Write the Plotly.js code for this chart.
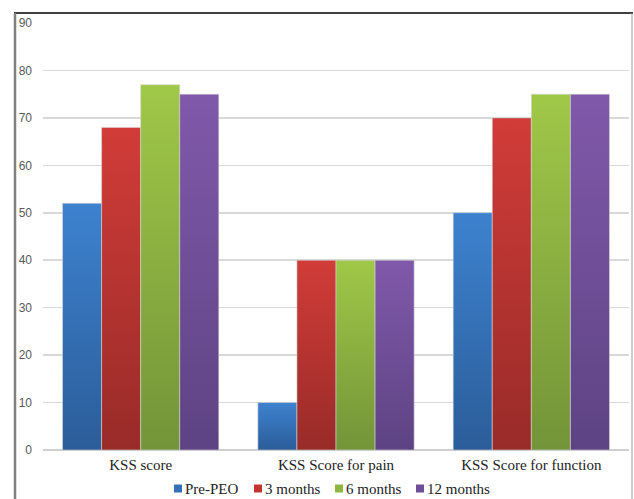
<!DOCTYPE html>
<html>
<head>
<meta charset="utf-8">
<script src="https://cdn.plot.ly/plotly-3.0.1.min.js"></script>
<style>
  html, body { margin: 0; padding: 0; background: #fff; }
  #chart { width: 634px; height: 499px; }
</style>
</head>
<body>
<div id="chart"></div>
<script>
// ---- data ----
const categories = ['KSS score', 'KSS Score for pain', 'KSS Score for function'];
const seriesNames = ['Pre-PEO', '3 months', '6 months', '12 months'];
const prePEO = [52, 10, 50];
const months3 = [68, 40, 70];
const months6 = [77, 40, 75];
const months12 = [75, 40, 75];
const yTickVals = [0, 10, 20, 30, 40, 50, 60, 70, 80, 90];

// ---- styling ----
const seriesValues = [prePEO, months3, months6, months12];
const topColors = ['#3d82cf', '#d13c38', '#a0c848', '#8059aa'];
const bottomColors = ['#2b5d99', '#982b28', '#739438', '#5d4383'];
const midColors = ['#3470b5', '#c23632', '#8fb541', '#6f4f98'];

const traces = seriesNames.map((name, i) => ({
  type: 'bar',
  name: name,
  x: categories,
  y: seriesValues[i],
  marker: { color: midColors[i], line: { width: 0.8, color: 'rgba(215,215,215,0.7)' } },
  hoverinfo: 'skip',
  showlegend: false
}));

const L = 43, R = 629, T = 23, B = 450;
const W = R - L, H = B - T;
const px = v => (v - L) / W;
const py = v => (B - v) / H;

// legend drawn as layout items (bottom, horizontal)
const legendLeft = [174, 254, 335, 416];
const legendCY = 488.5;
const legendFont = { family: '"Liberation Serif", "Times New Roman", serif', size: 15, color: '#222' };
const legendShapes = seriesNames.map((n, i) => ({
  type: 'rect', xref: 'paper', yref: 'paper',
  x0: px(legendLeft[i]), x1: px(legendLeft[i] + 8),
  y0: py(legendCY - 4), y1: py(legendCY + 4),
  fillcolor: midColors[i], line: { width: 0 }
}));
const legendAnnotations = seriesNames.map((n, i) => ({
  xref: 'paper', yref: 'paper',
  x: px(legendLeft[i] + 10), y: py(legendCY),
  xanchor: 'left', yanchor: 'middle',
  text: n, showarrow: false, borderpad: 0,
  font: legendFont
}));

const layout = {
  width: 634, height: 499,
  margin: { l: L, r: 634 - R, t: T, b: 499 - B, pad: 0 },
  paper_bgcolor: '#ffffff',
  plot_bgcolor: '#ffffff',
  barmode: 'group',
  bargap: 0.2,
  bargroupgap: 0,
  showlegend: false,
  xaxis: {
    type: 'category',
    showgrid: false,
    showline: false,
    zeroline: false,
    ticks: '',
    tickfont: { family: '"Liberation Serif", "Times New Roman", serif', size: 15, color: '#222' },
    ticklabelstandoff: 4
  },
  yaxis: {
    range: [0, 90],
    tickvals: yTickVals,
    ticktext: yTickVals.map(String),
    showgrid: true,
    gridcolor: '#d9d9d9',
    gridwidth: 1.5,
    zeroline: true,
    zerolinecolor: '#cfcfcf',
    zerolinewidth: 1.5,
    showline: false,
    ticks: '',
    ticklabelstandoff: 10,
    tickfont: { family: '"Liberation Sans", Arial, sans-serif', size: 12, color: '#595959' }
  },
  annotations: legendAnnotations,
  shapes: [
    { type: 'line', xref: 'paper', yref: 'paper', x0: px(14), x1: px(633), y0: py(13), y1: py(13), line: { color: '#000', width: 1.5 } },
    { type: 'line', xref: 'paper', yref: 'paper', x0: px(15), x1: px(15), y0: py(13), y1: py(510), line: { color: '#808080', width: 2.5 } },
    { type: 'line', xref: 'paper', yref: 'paper', x0: px(632), x1: px(632), y0: py(13), y1: py(510), line: { color: '#9a9a9a', width: 1 } }
  ].concat(legendShapes)
};

Plotly.newPlot('chart', traces, layout, { displayModeBar: false, staticPlot: true }).then(gd => {
  const svg = gd.querySelector('.main-svg');
  const ns = 'http://www.w3.org/2000/svg';
  let defs = svg.querySelector('defs');
  if (!defs) { defs = document.createElementNS(ns, 'defs'); svg.insertBefore(defs, svg.firstChild); }
  seriesNames.forEach((n, i) => {
    const g = document.createElementNS(ns, 'linearGradient');
    g.setAttribute('id', 'barGrad' + i);
    g.setAttribute('x1', '0'); g.setAttribute('y1', '0');
    g.setAttribute('x2', '0'); g.setAttribute('y2', '1');
    const s1 = document.createElementNS(ns, 'stop');
    s1.setAttribute('offset', '0'); s1.setAttribute('stop-color', topColors[i]);
    const s2 = document.createElementNS(ns, 'stop');
    s2.setAttribute('offset', '1'); s2.setAttribute('stop-color', bottomColors[i]);
    g.appendChild(s1); g.appendChild(s2);
    defs.appendChild(g);
  });
  const barTraces = gd.querySelectorAll('.barlayer .trace');
  barTraces.forEach((t, i) => {
    t.querySelectorAll('.point path').forEach(p => { p.style.fill = 'url(#barGrad' + i + ')'; });
  });
});
</script>
</body>
</html>
